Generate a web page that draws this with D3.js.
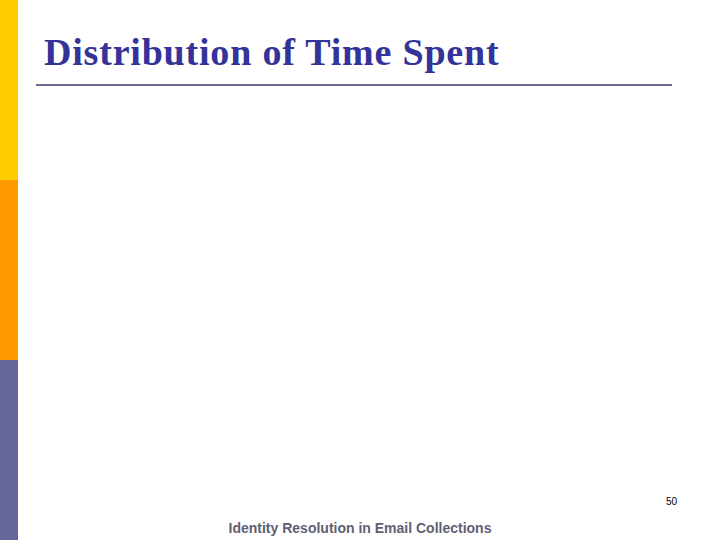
<!DOCTYPE html>
<html>
<head>
<meta charset="utf-8">
<script src="https://cdn.jsdelivr.net/npm/d3@7"></script>
<style>
  html, body { margin: 0; padding: 0; background: #fff; }
</style>
</head>
<body>
<div id="slide"></div>
<script>
// slide content (the chart area of this slide is empty)
const title = "Distribution of Time Spent";
const footer = "Identity Resolution in Email Collections";
const pageNumber = "50";
const sideBands = ["top", "middle", "bottom"];
const sideColors = ["#FFCC00", "#FF9900", "#666699"];

const width = 720, height = 540;

const svg = d3.select("#slide")
    .append("svg")
    .attr("width", width)
    .attr("height", height);

// left colour strip
const y = d3.scaleBand()
    .domain(sideBands)
    .range([0, height]);

svg.selectAll(".band")
    .data(sideBands)
    .enter()
    .append("rect")
    .attr("class", "band")
    .attr("x", 0)
    .attr("y", d => y(d))
    .attr("width", 18)
    .attr("height", y.bandwidth())
    .style("fill", (d, i) => sideColors[i]);

// title
svg.append("text")
    .attr("x", 44)
    .attr("y", 65)
    .style("font-family", "'Liberation Serif', 'Times New Roman', serif")
    .style("font-weight", "bold")
    .style("font-size", "38px")
    .style("letter-spacing", "0.8px")
    .style("fill", "#333399")
    .text(title);

// rule under the title
svg.append("line")
    .attr("x1", 36)
    .attr("x2", 672)
    .attr("y1", 85)
    .attr("y2", 85)
    .style("stroke", "#6E6A8E")
    .style("stroke-width", 2);

// page number
svg.append("text")
    .attr("x", 677)
    .attr("y", 505)
    .attr("text-anchor", "end")
    .style("font-family", "'Liberation Sans', Arial, sans-serif")
    .style("font-size", "10px")
    .style("fill", "#000")
    .text(pageNumber);

// footer
svg.append("text")
    .attr("x", 360)
    .attr("y", 533)
    .attr("text-anchor", "middle")
    .style("font-family", "'Liberation Sans', Arial, sans-serif")
    .style("font-weight", "bold")
    .style("font-size", "14px")
    .style("fill", "#606074")
    .text(footer);
</script>
</body>
</html>
